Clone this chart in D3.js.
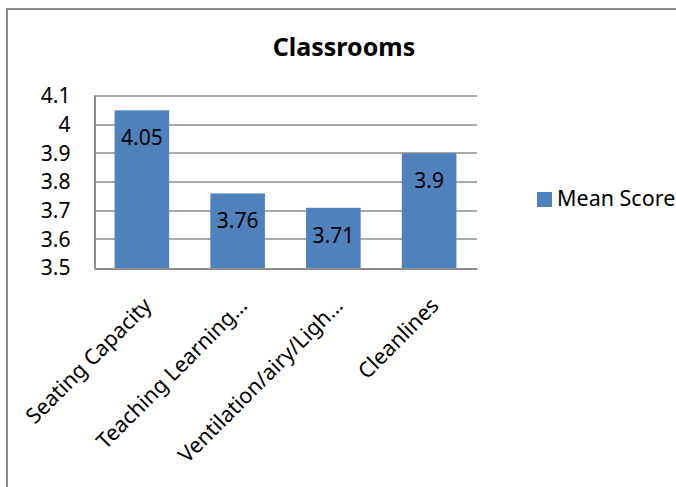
<!DOCTYPE html>
<html>
<head>
<meta charset="utf-8">
<script src="https://cdn.jsdelivr.net/npm/d3@7"></script>
<style>
  body { margin: 0; background: #fff; }
  svg { display: block; font-family: "Noto Sans", "Open Sans", sans-serif; }
</style>
</head>
<body>
<svg width="676" height="487"></svg>
<script>
// chart data
var categories = ["Seating Capacity", "Teaching Learning…", "Ventilation/airy/Ligh…", "Cleanlines"];
var meanScores = [4.05, 3.76, 3.71, 3.9];
var yTicks = [3.5, 3.6, 3.7, 3.8, 3.9, 4, 4.1];
var seriesName = "Mean Score";

var svg = d3.select("svg"),
    plot = {left: 94, right: 477, top: 96, bottom: 268};

// outer chart frame (runs off right/bottom edge)
svg.append("path")
    .attr("d", "M7,490 L7,9 L680,9")
    .attr("fill", "none")
    .attr("stroke", "#8c8c8c")
    .attr("stroke-width", 2);

svg.append("text")
    .attr("x", 344)
    .attr("y", 56)
    .attr("text-anchor", "middle")
    .attr("font-weight", "bold")
    .attr("font-size", 25)
    .text("Classrooms");

var x = d3.scaleBand()
    .domain(categories)
    .range([plot.left, plot.right])
    .paddingInner(0.43)
    .paddingOuter(0.215);

var y = d3.scaleLinear()
    .domain([3.5, 4.1])
    .range([plot.bottom, plot.top]);

var g = svg.append("g");

// gridlines
g.selectAll(".grid")
    .data(yTicks.slice(1))
    .enter().append("line")
    .attr("class", "grid")
    .attr("x1", plot.left)
    .attr("x2", plot.right)
    .attr("y1", function(d) { return Math.round(y(d)); })
    .attr("y2", function(d) { return Math.round(y(d)); })
    .attr("stroke", "#8c8c8c")
    .attr("stroke-width", 1.5);

// bars
g.selectAll(".bar")
    .data(meanScores)
    .enter().append("rect")
    .attr("class", "bar")
    .attr("x", function(d, i) { return x(categories[i]); })
    .attr("width", x.bandwidth())
    .attr("y", function(d) { return y(d); })
    .attr("height", function(d) { return y(3.5) - y(d); })
    .attr("fill", "#4f81bd");

// value labels inside bars
g.selectAll(".val")
    .data(meanScores)
    .enter().append("text")
    .attr("class", "val")
    .attr("x", function(d, i) { return x(categories[i]) + x.bandwidth() / 2; })
    .attr("y", function(d) { return y(d) + 35; })
    .attr("text-anchor", "middle")
    .attr("font-size", 21)
    .attr("fill", "#000")
    .text(function(d) { return d; });

// axes
var yAxis = svg.append("g")
    .attr("transform", "translate(" + (plot.left + 0.5) + ",0)")
    .call(d3.axisLeft(y).tickValues(yTicks).tickSize(0).tickPadding(24)
      .tickFormat(function(d) { return String(d); }));
yAxis.select(".domain").attr("stroke", "#8c8c8c").attr("stroke-width", 2);
yAxis.selectAll("text").attr("font-size", 21).attr("fill", "#000")
    .attr("font-family", "Noto Sans");

var xAxis = svg.append("g")
    .attr("transform", "translate(0," + (plot.bottom + 0.5) + ")")
    .call(d3.axisBottom(x).tickSize(0).tickFormat(""));
xAxis.select(".domain").attr("stroke", "#8c8c8c").attr("stroke-width", 2);

// rotated category labels
svg.selectAll(".cat")
    .data(categories)
    .enter().append("text")
    .attr("class", "cat")
    .attr("text-anchor", "end")
    .attr("font-size", 21.5)
    .attr("transform", function(d) {
      return "translate(" + (x(d) + x.bandwidth() / 2 + 11) + "," + 307 + ") rotate(-45)";
    })
    .text(function(d) { return d; });

// legend
var legend = svg.append("g").attr("transform", "translate(537,192)");
legend.append("rect").attr("width", 15).attr("height", 15).attr("fill", "#4f81bd");
legend.append("text")
    .attr("x", 20).attr("y", 14)
    .attr("font-size", 21.5)
    .text(seriesName);
</script>
</body>
</html>
